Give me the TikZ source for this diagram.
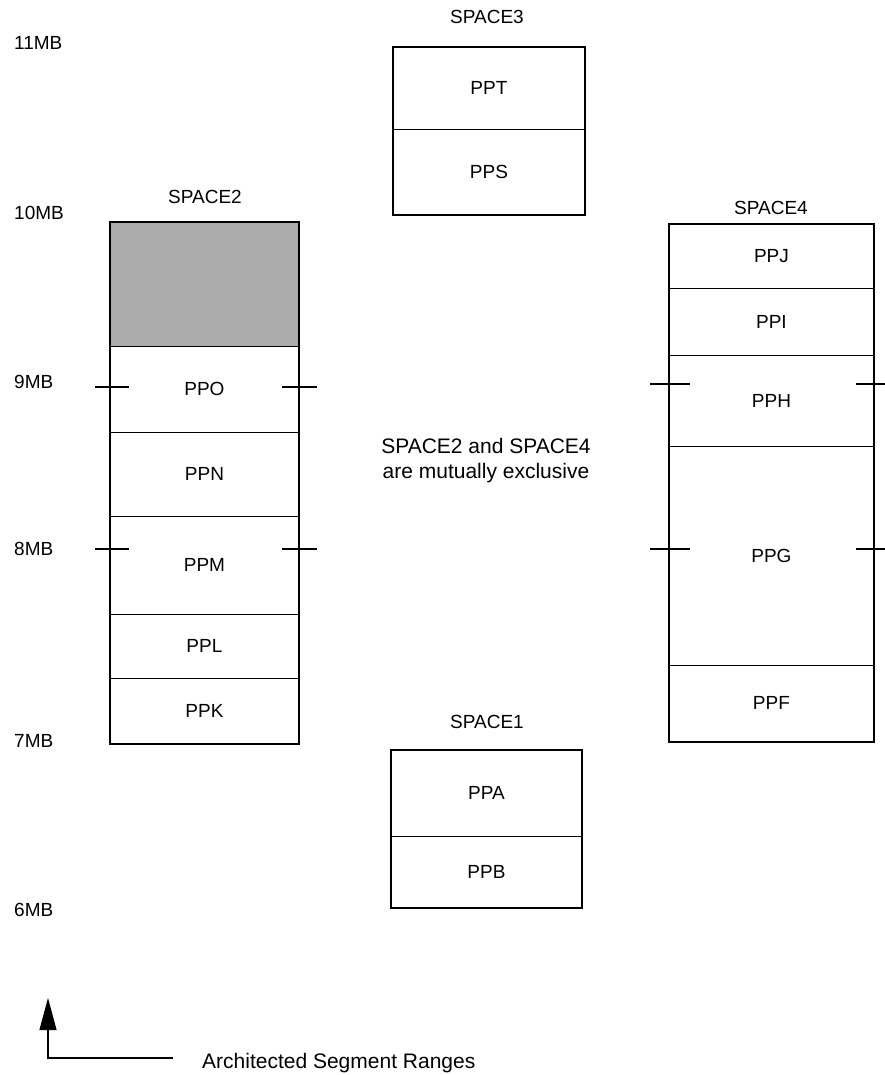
\documentclass[tikz,border=0pt]{standalone}
\usepackage{fontspec}
\setmainfont{Liberation Sans}
\usetikzlibrary{arrows.meta}
\begin{document}
\begin{tikzpicture}[x=1pt,y=-1pt,
  every node/.style={font=\fontsize{19}{23}\selectfont},
  seg/.style={draw=black, line width=0.9pt, inner sep=0pt, anchor=north west},
  outer/.style={draw=black, line width=1.6pt},
  tick/.style={draw=black, line width=1.5pt},
  lbl/.style={inner sep=0pt, anchor=west},
  title/.style={inner sep=0pt},
  big/.style={font=\fontsize{21}{25}\selectfont}]
\useasboundingbox (0,0) rectangle (884,1075);
% SPACE3
\node[title] (t3) at (487,17) {SPACE3};
\node[seg, minimum width=191, minimum height=82] (ppt) at (393,47) {PPT};
\node[seg, minimum width=191, minimum height=85] (pps) at (393,129) {PPS};
\draw[outer] (ppt.north west) rectangle (pps.south east);
% SPACE2
\node[title] (t2) at (205,197) {SPACE2};
\node[seg, fill=black!33, minimum width=188, minimum height=124] (shade) at (110,222) {};
\node[seg, minimum width=188, minimum height=86] (ppo) at (110,346) {PPO};
\node[seg, minimum width=188, minimum height=84] (ppn) at (110,432) {PPN};
\node[seg, minimum width=188, minimum height=98] (ppm) at (110,516) {PPM};
\node[seg, minimum width=188, minimum height=64] (ppl) at (110,614) {PPL};
\node[seg, minimum width=188, minimum height=65] (ppk) at (110,678) {PPK};
\draw[outer] (shade.north west) rectangle (ppk.south east);
% SPACE4
\node[title] (t4) at (771,208) {SPACE4};
\node[seg, minimum width=204, minimum height=64] (ppj) at (669,224) {PPJ};
\node[seg, minimum width=204, minimum height=67] (ppi) at (669,288) {PPI};
\node[seg, minimum width=204, minimum height=91] (pph) at (669,355) {PPH};
\node[seg, minimum width=204, minimum height=219] (ppg) at (669,446) {PPG};
\node[seg, minimum width=204, minimum height=76] (ppf) at (669,665) {PPF};
\draw[outer] (ppj.north west) rectangle (ppf.south east);
% SPACE1
\node[title] (t1) at (487,722) {SPACE1};
\node[seg, minimum width=190, minimum height=86] (ppa) at (391,750) {PPA};
\node[seg, minimum width=190, minimum height=71] (ppb) at (391,836) {PPB};
\draw[outer] (ppa.north west) rectangle (ppb.south east);
% ticks
\draw[tick] (95,387) -- (129,387);
\draw[tick] (282,387) -- (317,387);
\draw[tick] (95,549) -- (129,549);
\draw[tick] (282,549) -- (317,549);
\draw[tick] (650,384) -- (690,384);
\draw[tick] (856,384) -- (890,384);
\draw[tick] (650,549) -- (690,549);
\draw[tick] (856,549) -- (890,549);
% scale labels
\node[lbl] (m11) at (14,43) {11MB};
\node[lbl] (m10) at (14,213) {10MB};
\node[lbl] (m9) at (14,382) {9MB};
\node[lbl] (m8) at (14,549) {8MB};
\node[lbl] (m7) at (14,741) {7MB};
\node[lbl] (m6) at (14,910) {6MB};
% middle note
\node[title, big, align=center] (note) at (486,461) {SPACE2 and SPACE4\\are mutually exclusive};
% legend
\coordinate (atip) at (48,998);
\coordinate (acorner) at (48,1058);
\coordinate (aend) at (173,1058);
\draw[line width=1.1pt, -{Triangle[length=32pt,width=17pt]}] (aend) -- (acorner) -- (atip);
\node[lbl, big] (legend) at (202,1063) {Architected Segment Ranges};
\end{tikzpicture}
\end{document}
